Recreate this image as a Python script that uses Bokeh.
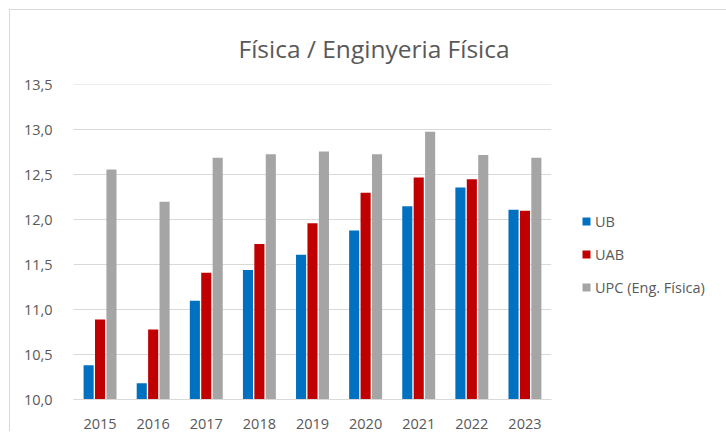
from bokeh.plotting import figure
from bokeh.models import (ColumnDataSource, FixedTicker, CustomJSTickFormatter, Legend,
                          LegendItem, Range1d)
from bokeh.transform import dodge
from bokeh.embed import file_html
from bokeh.resources import INLINE

years = ["2015", "2016", "2017", "2018", "2019", "2020", "2021", "2022", "2023"]
ub = [10.38, 10.18, 11.10, 11.44, 11.61, 11.88, 12.15, 12.36, 12.11]
uab = [10.89, 10.78, 11.41, 11.73, 11.96, 12.30, 12.47, 12.45, 12.10]
upc = [12.56, 12.20, 12.69, 12.73, 12.76, 12.73, 12.98, 12.72, 12.69]
series_names = ["UB", "UAB", "UPC (Eng. Física)"]
colors = ["#0070C0", "#C00000", "#A5A5A5"]
title_text = "Física / Enginyeria Física"
y_ticks = [10.0, 10.5, 11.0, 11.5, 12.0, 12.5, 13.0, 13.5]

src = ColumnDataSource(dict(year=years, ub=ub, uab=uab, upc=upc))

FONT = "Open Sans"
TXT = "#595959"
GRID = "#d9d9d9"

p = figure(x_range=years, y_range=Range1d(10.0, 13.505), frame_width=478, frame_height=315,
           output_backend="svg", toolbar_location=None,
           min_border_left=63, min_border_right=160, min_border_top=60, min_border_bottom=30)
p.styles = {"margin-top": "9px", "margin-left": "9px",
            "border-top": "1px solid #d9d9d9", "border-left": "1px solid #d9d9d9"}
p.outline_line_color = None
p.background_fill_color = "white"
p.border_fill_color = "white"

renderers = []
for col, off, c in zip(["ub", "uab", "upc"], [-0.215, 0.0, 0.215], colors):
    r = p.vbar(x=dodge("year", off, range=p.x_range), top=col, bottom=10.0, width=0.19,
               source=src, fill_color=c, line_color=None)
    renderers.append(r)

p.xgrid.grid_line_color = None
p.ygrid.grid_line_color = GRID
p.ygrid.grid_line_width = 1

p.yaxis.ticker = FixedTicker(ticks=y_ticks)
p.yaxis.formatter = CustomJSTickFormatter(code="return tick.toFixed(1).replace('.', ',');")
p.yaxis.axis_line_color = None
p.yaxis.major_tick_line_color = None
p.yaxis.minor_tick_line_color = None
p.yaxis.major_label_standoff = 15
p.xaxis.axis_line_color = GRID
p.xaxis.major_tick_line_color = None
p.xaxis.minor_tick_line_color = None
p.xaxis.major_label_standoff = 13
for ax in (p.xaxis, p.yaxis):
    ax.major_label_text_font = FONT
    ax.major_label_text_font_size = "14.5px"
    ax.major_label_text_color = TXT

legend = Legend(items=[LegendItem(label=n, renderers=[r]) for n, r in zip(series_names, renderers)],
                location=(30, 102), glyph_width=10, glyph_height=10, label_height=20,
                spacing=13, padding=0, margin=0, label_standoff=4,
                label_text_font=FONT, label_text_font_size="14.5px", label_text_color=TXT,
                border_line_color=None, background_fill_alpha=0)
p.add_layout(legend, "right")

p.title.text = title_text
p.title.align = "left"
p.title.offset = 165
p.title.standoff = 39
p.title.text_font = FONT
p.title.text_font_size = "24.5px"
p.title.text_font_style = "normal"
p.title.text_color = TXT

open("out.html", "w").write(file_html(p, INLINE))
